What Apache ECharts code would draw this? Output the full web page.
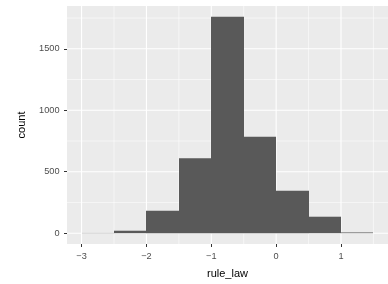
<!DOCTYPE html>
<html>
<head>
<meta charset="utf-8">
<script src="https://cdn.jsdelivr.net/npm/echarts@6/dist/echarts.min.js"></script>
<style>html,body{margin:0;padding:0;background:#fff}#c{width:388px;height:284px}</style>
</head>
<body>
<div id="c"></div>
<script>
// Histogram bins (width 0.5)
var binStarts = [-3, -2.5, -2, -1.5, -1, -0.5, 0, 0.5, 1];
var binWidth = 0.5;
var counts = [2, 20, 182, 610, 1760, 785, 346, 134, 6];
var xTicks = [-3, -2, -1, 0, 1];
var xMinor = [-2.5, -1.5, -0.5, 0.5, 1.5];
var yTicks = [0, 500, 1000, 1500];
var yMinor = [250, 750, 1250, 1750];

var xLo = binStarts[0], xHi = binStarts[binStarts.length - 1] + binWidth;
var xPad = (xHi - xLo) * 0.05;
var yMaxData = Math.max.apply(null, counts);
var yLo = -0.05 * yMaxData, yHi = 1.05 * yMaxData;

var chart = echarts.init(document.getElementById('c'), null, {renderer: 'canvas'});
var fmt = function (v) { return String(v).replace('-', '\u2212'); };

function gridSeries(vals, dir, width) {
  return {
    type: 'custom', z: 1, silent: true, clip: true,
    data: vals.map(function (v) { return [v]; }),
    renderItem: function (params, api) {
      var v = api.value(0), p1, p2;
      if (dir === 'x') { p1 = api.coord([v, yLo]); p2 = api.coord([v, yHi]); }
      else { p1 = api.coord([xLo - xPad, v]); p2 = api.coord([xHi + xPad, v]); }
      return {type: 'line', shape: {x1: p1[0], y1: p1[1], x2: p2[0], y2: p2[1]},
              style: {stroke: '#ffffff', lineWidth: width}};
    }
  };
}

var barData = binStarts.map(function (s, i) { return [s, s + binWidth, counts[i]]; });

chart.setOption({
  animation: false,
  grid: {left: 67, right: 0, top: 6, bottom: 39, show: true, backgroundColor: '#EBEBEB', borderWidth: 0},
  xAxis: {
    type: 'value', min: xLo - xPad, max: xHi + xPad,
    name: 'rule_law', nameLocation: 'middle', nameGap: 24,
    nameTextStyle: {fontFamily: 'Liberation Sans', fontSize: 11, color: '#000'},
    axisLine: {show: false, onZero: false},
    axisTick: {show: true, length: 3, lineStyle: {color: '#333333', width: 1}, customValues: xTicks},
    axisLabel: {customValues: xTicks, formatter: fmt, margin: 7.5, fontFamily: 'Liberation Sans', fontSize: 9.2, color: '#4D4D4D'},
    splitLine: {show: false}
  },
  yAxis: {
    type: 'value', min: yLo, max: yHi,
    name: 'count', nameLocation: 'middle', nameGap: 40, nameRotate: 90,
    nameTextStyle: {fontFamily: 'Liberation Sans', fontSize: 11, color: '#000'},
    axisLine: {show: false, onZero: false},
    axisTick: {show: true, length: 3, lineStyle: {color: '#333333', width: 1}, customValues: yTicks},
    axisLabel: {customValues: yTicks, formatter: function (v) { return String(v); }, margin: 7.5, fontFamily: 'Liberation Sans', fontSize: 9.2, color: '#4D4D4D'},
    splitLine: {show: false}
  },
  series: [
    gridSeries(xMinor, 'x', 0.55),
    gridSeries(yMinor, 'y', 0.55),
    gridSeries(xTicks, 'x', 1.1),
    gridSeries(yTicks, 'y', 1.1),
    {
      type: 'custom', z: 5, clip: true,
      data: barData,
      encode: {x: [0, 1], y: 2},
      renderItem: function (params, api) {
        var p0 = api.coord([api.value(0), 0]);
        var p1 = api.coord([api.value(1), api.value(2)]);
        var x0 = Math.round(p0[0]), x1 = Math.round(p1[0]);
        return {type: 'rect', shape: {x: x0, y: p1[1], width: x1 - x0, height: p0[1] - p1[1]},
                style: {fill: '#595959'}};
      }
    }
  ]
});
</script>
</body>
</html>
